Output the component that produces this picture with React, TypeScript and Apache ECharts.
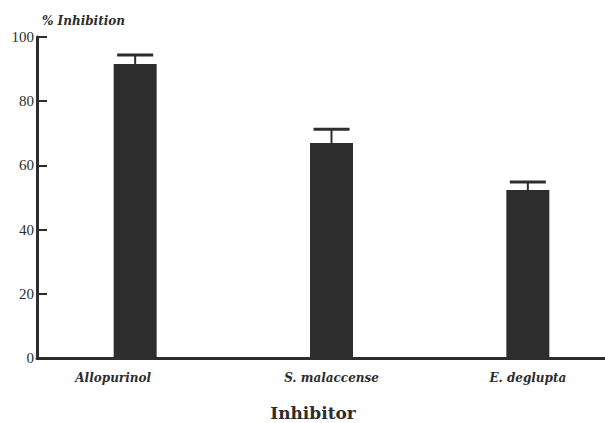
import React, { useEffect, useRef } from "react";
import * as echarts from "echarts";

const categories = ["Allopurinol", "S. malaccense", "E. deglupta"];
const inhibition = [91.6, 67.0, 52.3];
const errorTop = [94.4, 71.3, 54.8];
const yTicks = [0, 20, 40, 60, 80, 100];

const INK = "#2d2d2d";
const SERIF = "'Liberation Serif', 'DejaVu Serif', serif";
const WIDE = "'DejaVu Serif', 'Liberation Serif', serif";

export default function App() {
  const ref = useRef<HTMLDivElement>(null);
  useEffect(() => {
    if (!ref.current) return;
    const chart = echarts.init(ref.current, undefined, { renderer: "svg" });
    const option = {
      animation: false,
      backgroundColor: "#ffffff",
      title: [
        {
          text: "% Inhibition",
          left: 42,
          top: 15,
          padding: 0,
          textStyle: { fontFamily: WIDE, fontSize: 12, fontWeight: "bold", fontStyle: "italic", color: INK },
        },
        {
          text: "Inhibitor",
          left: 313,
          textAlign: "center",
          top: 404,
          padding: 0,
          textStyle: { fontFamily: WIDE, fontSize: 17, fontWeight: "bold", color: INK },
        },
      ],
      grid: { left: 37, top: 37, width: 589, height: 321, containLabel: false, outerBoundsMode: "none" },
      xAxis: {
        type: "category",
        data: categories,
        axisLine: { show: true, lineStyle: { color: INK, width: 3 } },
        axisTick: { show: false },
        axisLabel: {
          margin: 14,
          fontFamily: WIDE,
          fontSize: 12,
          fontWeight: "bold",
          fontStyle: "italic",
          color: INK,
          formatter: (v: string, i: number) => (i === 0 ? `{a|${v}}` : v),
          rich: {
            a: {
              fontFamily: WIDE,
              fontSize: 12,
              fontWeight: "bold",
              fontStyle: "italic",
              color: INK,
              padding: [0, 44, 0, 0],
            },
          },
        },
      },
      yAxis: {
        type: "value",
        min: yTicks[0],
        max: yTicks[yTicks.length - 1],
        interval: yTicks[1] - yTicks[0],
        splitLine: { show: false },
        axisLine: { show: true, lineStyle: { color: INK, width: 3 } },
        axisTick: { show: true, inside: true, length: 10, lineStyle: { color: INK, width: 2 } },
        axisLabel: { margin: 3, fontFamily: SERIF, fontSize: 15, color: INK, padding: [6, 0, 0, 0] },
      },
      series: [
        {
          type: "bar",
          data: inhibition,
          barWidth: 43,
          itemStyle: { color: INK },
          z: 2,
        },
        {
          type: "custom",
          z: 3,
          data: categories.map((_, i) => [i, inhibition[i], errorTop[i]]),
          renderItem: (params: any, api: any) => {
            const i = api.value(0);
            const base = api.coord([i, api.value(1)]);
            const top = api.coord([i, api.value(2)]);
            const half = 18;
            return {
              type: "group",
              children: [
                {
                  type: "line",
                  shape: { x1: base[0], y1: base[1], x2: top[0], y2: top[1] },
                  style: { stroke: INK, lineWidth: 2 },
                },
                {
                  type: "line",
                  shape: { x1: top[0] - half, y1: top[1], x2: top[0] + half, y2: top[1] },
                  style: { stroke: INK, lineWidth: 3 },
                },
              ],
            };
          },
        },
      ],
    };
    chart.setOption(option as any);
    return () => chart.dispose();
  }, []);
  return (
    <div
      ref={ref}
      style={{ position: "fixed", left: 0, top: 0, width: 605, height: 423, background: "#fff" }}
    />
  );
}
